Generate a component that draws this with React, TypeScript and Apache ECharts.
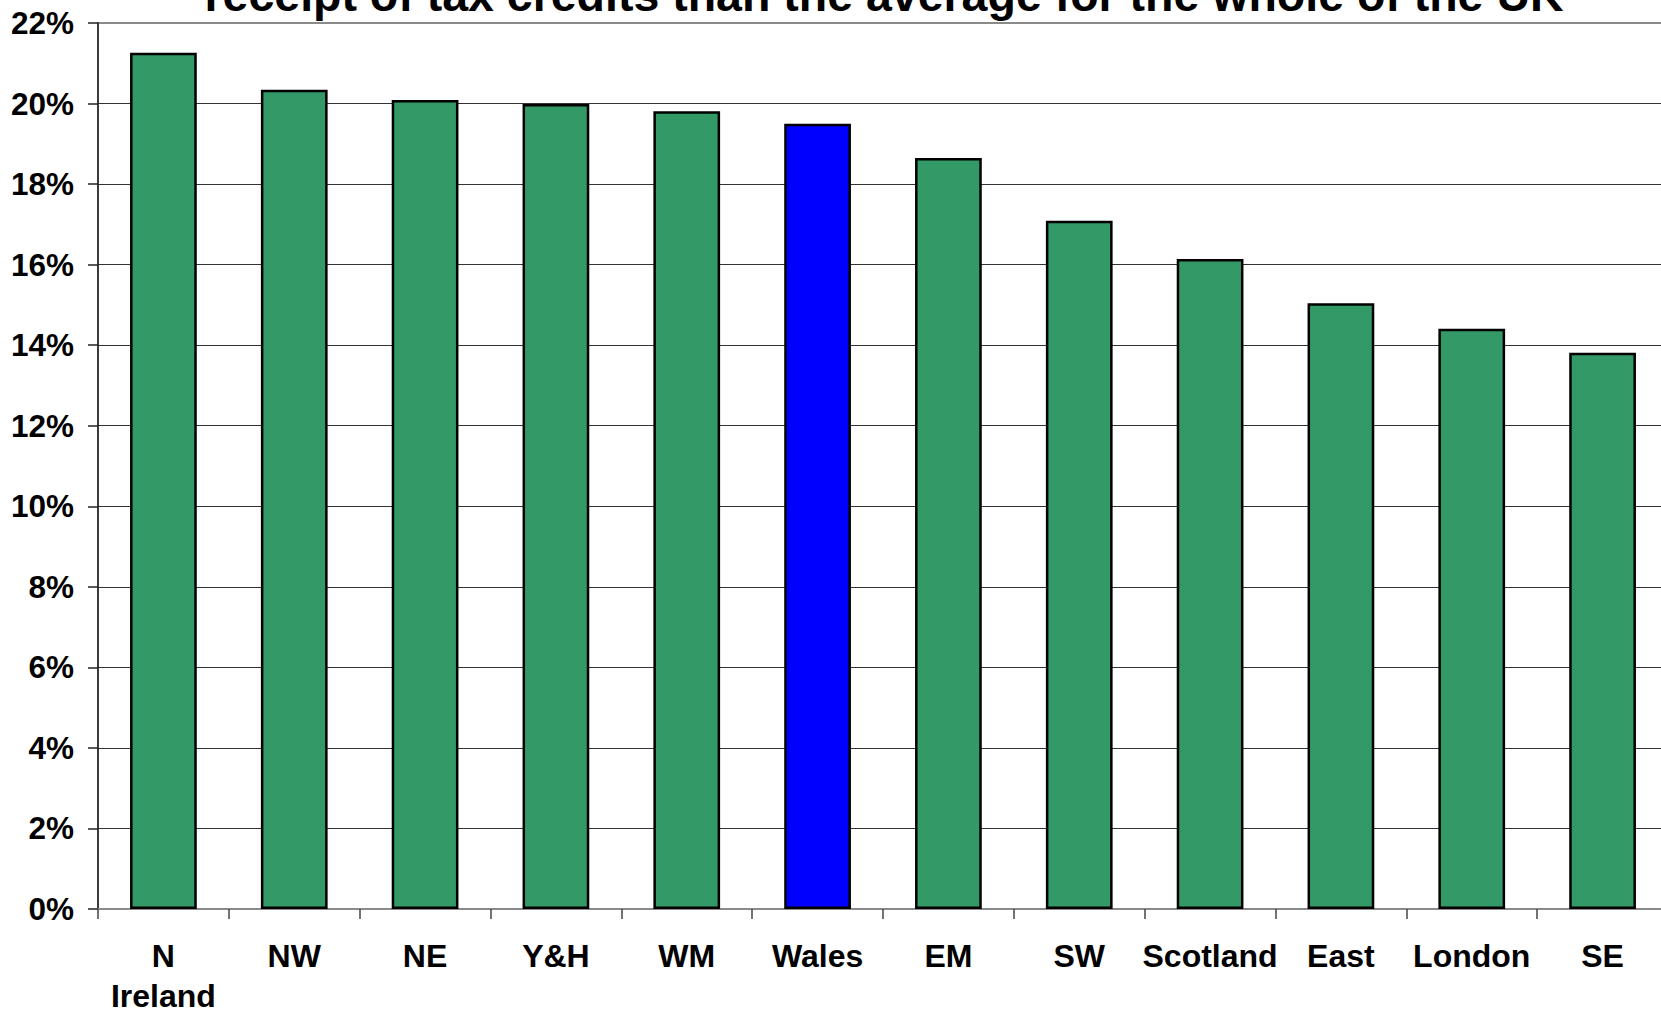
import React, { useEffect, useRef } from "react";
import * as echarts from "echarts";

const categories = ["N\nIreland", "NW", "NE", "Y&H", "WM", "Wales", "EM", "SW", "Scotland", "East", "London", "SE"];
const values = [21.26, 20.34, 20.09, 19.99, 19.81, 19.5, 18.65, 17.09, 16.14, 15.04, 14.41, 13.81];
const highlighted = ["Wales"];
const titleText = "receipt of tax credits than the average for the whole of the UK";

const GREEN = "#339966";
const BLUE = "#0000FF";

export default function App() {
  const ref = useRef<HTMLDivElement>(null);
  useEffect(() => {
    document.body.style.margin = "0";
    const chart = echarts.init(ref.current!, null, { renderer: "svg" });
    const font = "'Liberation Sans', Arial, sans-serif";
    chart.setOption({
      animation: false,
      backgroundColor: "#ffffff",
      grid: {
        left: 98,
        top: 23,
        width: 1570,
        height: 886,
        show: true,
        borderColor: "#8a8a8a",
        borderWidth: 2,
        backgroundColor: "transparent",
        containLabel: false,
        outerBoundsMode: "none",
      },
      graphic: [
        {
          type: "text",
          x: 884,
          y: -5,
          style: {
            text: titleText,
            align: "center",
            verticalAlign: "middle",
            font: `bold 46.5px ${font}`,
            fill: "#000",
          },
        },
      ],
      xAxis: {
        type: "category",
        data: categories,
        axisLine: { show: true, lineStyle: { color: "#8a8a8a", width: 2 } },
        axisTick: { show: true, interval: 0, length: 10, alignWithLabel: false, lineStyle: { color: "#444", width: 1.5 } },
        axisLabel: {
          interval: 0,
          color: "#000",
          fontFamily: font,
          fontWeight: "bold",
          fontSize: 32,
          lineHeight: 40,
          margin: 27,
        },
        splitLine: { show: false },
      },
      yAxis: {
        type: "value",
        min: 0,
        max: 22,
        interval: 2,
        axisLine: { show: true, lineStyle: { color: "#222", width: 1.5 } },
        axisTick: { show: true, length: 10, lineStyle: { color: "#222", width: 1.5 } },
        axisLabel: {
          formatter: "{value}%",
          color: "#000",
          fontFamily: font,
          fontWeight: "bold",
          fontSize: 31.5,
          margin: 24,
        },
        splitLine: { show: true, showMaxLine: false, showMinLine: false, lineStyle: { color: "#333", width: 1.2 } },
      },
      series: [
        {
          type: "bar",
          barWidth: "51%",
          data: values.map((v, i) => ({
            value: v,
            itemStyle: { color: highlighted.includes(categories[i]) ? BLUE : GREEN },
          })),
          itemStyle: { borderColor: "#000", borderWidth: 2.5 },
        },
      ],
    });
    return () => chart.dispose();
  }, []);
  return <div ref={ref} style={{ position: "fixed", left: 0, top: 0, width: 1661, height: 1010 }} />;
}
